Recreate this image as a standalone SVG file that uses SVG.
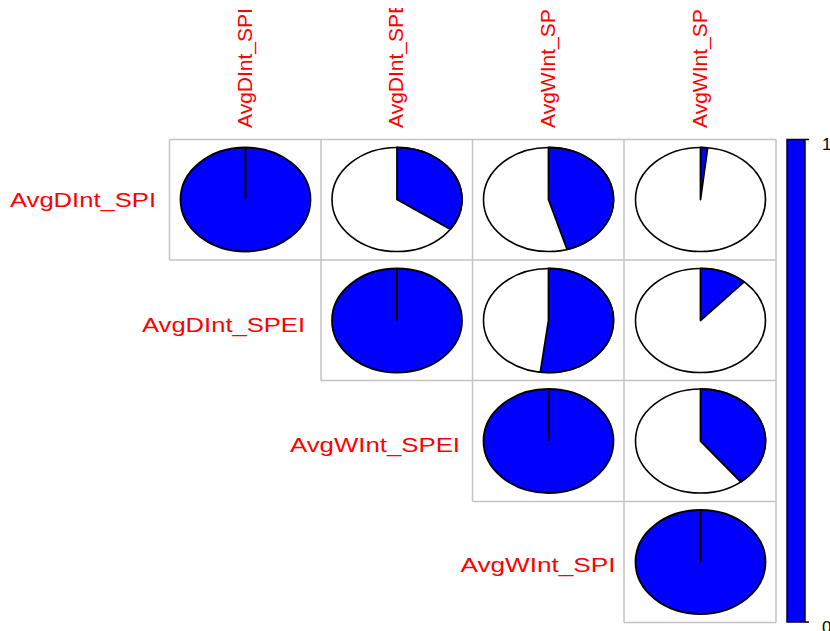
<svg xmlns="http://www.w3.org/2000/svg" width="830" height="631" viewBox="0 0 830 631">
<style>
.lbl{font-family:"Liberation Sans",Arial,sans-serif;font-size:20px;fill:#FF0000}
.top{font-family:"Liberation Sans",Arial,sans-serif;font-size:21px;fill:#FF0000}
.grid{stroke:#C4C4C4;stroke-width:1.5;fill:none}
.bg{fill:#FFFFFF;stroke:#000;stroke-width:1.6}
.full{fill:#0000FF;stroke:#000;stroke-width:1.8}
.sec{fill:#0000FF;stroke:#000;stroke-width:1.8;stroke-linejoin:round}
.rad{stroke:#000;stroke-width:2}
.num{font-family:"Liberation Sans",Arial,sans-serif;font-size:17px;fill:#000}
</style>
<defs>
<clipPath id="topclip"><rect x="0" y="8" width="830" height="132"/></clipPath>
</defs>
<rect width="830" height="631" fill="#FFFFFF"/>

<g id="grid">
<path class="grid" d="M169.5 139.5H776 M169.5 260H776 M321 380.5H776 M472.5 501.5H776 M624 622.5H776 M169.5 139.5V260 M321 139.5V380.5 M472.5 139.5V501.5 M624 139.5V622.5 M776 139.5V622.5"/>
</g>

<g id="col-labels" clip-path="url(#topclip)">
<text class="top" transform="translate(251.5,128) rotate(-90)">AvgDInt_SPI</text>
<text class="top" transform="translate(403,128) rotate(-90)">AvgDInt_SPEI</text>
<text class="top" transform="translate(554.5,128) rotate(-90)">AvgWInt_SPEI</text>
<text class="top" transform="translate(706.5,128) rotate(-90)">AvgWInt_SPI</text>
</g>

<g id="row-labels">
<text class="lbl" x="156" y="207.3" text-anchor="end" textLength="146" lengthAdjust="spacingAndGlyphs">AvgDInt_SPI</text>
<text class="lbl" x="305" y="331.7" text-anchor="end" textLength="163" lengthAdjust="spacingAndGlyphs">AvgDInt_SPEI</text>
<text class="lbl" x="460" y="451.7" text-anchor="end" textLength="170" lengthAdjust="spacingAndGlyphs">AvgWInt_SPEI</text>
<text class="lbl" x="615.5" y="571.7" text-anchor="end" textLength="155" lengthAdjust="spacingAndGlyphs">AvgWInt_SPI</text>
</g>

<g id="cell-1-1">
<ellipse class="full" cx="245.5" cy="199.5" rx="65" ry="52"/>
<line class="rad" x1="245.5" y1="199.5" x2="245.5" y2="147.5"/>
</g>
<g id="cell-1-2">
<ellipse class="bg" cx="397" cy="199.5" rx="65" ry="52"/>
<path class="sec" d="M397 199.5L397 147.5A65 52 0 0 1 450.3 229.25Z"/>
</g>
<g id="cell-1-3">
<ellipse class="bg" cx="548.5" cy="199.5" rx="65" ry="52"/>
<path class="sec" d="M548.5 199.5L548.5 147.5A65 52 0 0 1 567.07 249.33Z"/>
</g>
<g id="cell-1-4">
<ellipse class="bg" cx="700.5" cy="199.5" rx="65" ry="52"/>
<path class="sec" d="M700.5 199.5L700.5 147.5A65 52 0 0 1 707.63 147.81Z"/>
</g>

<g id="cell-2-2">
<ellipse class="full" cx="397" cy="320.5" rx="65" ry="52"/>
<line class="rad" x1="397" y1="320.5" x2="397" y2="268.5"/>
</g>
<g id="cell-2-3">
<ellipse class="bg" cx="548.5" cy="320.5" rx="65" ry="52"/>
<path class="sec" d="M548.5 320.5L548.5 268.5A65 52 0 1 1 540.35 372.09Z"/>
</g>
<g id="cell-2-4">
<ellipse class="bg" cx="700.5" cy="320.5" rx="65" ry="52"/>
<path class="sec" d="M700.5 320.5L700.5 268.5A65 52 0 0 1 744.08 281.92Z"/>
</g>

<g id="cell-3-3">
<ellipse class="full" cx="548.5" cy="441" rx="65" ry="52"/>
<line class="rad" x1="548.5" y1="441" x2="548.5" y2="389"/>
</g>
<g id="cell-3-4">
<ellipse class="bg" cx="700.5" cy="441" rx="65" ry="52"/>
<path class="sec" d="M700.5 441L700.5 389A65 52 0 0 1 740.7 481.87Z"/>
</g>

<g id="cell-4-4">
<ellipse class="full" cx="700.5" cy="562" rx="65" ry="52"/>
<line class="rad" x1="700.5" y1="562" x2="700.5" y2="510"/>
</g>

<g id="colorbar">
<rect x="787" y="139.5" width="18" height="482.5" fill="#0000FF" stroke="#000033" stroke-width="1.5"/>
<line x1="805" y1="139.5" x2="809" y2="139.5" stroke="#000" stroke-width="1.5"/>
<line x1="805" y1="622" x2="809" y2="622" stroke="#000" stroke-width="1.5"/>
<text class="num" x="822" y="150">1</text>
<text class="num" x="822" y="633">0</text>
</g>
</svg>
